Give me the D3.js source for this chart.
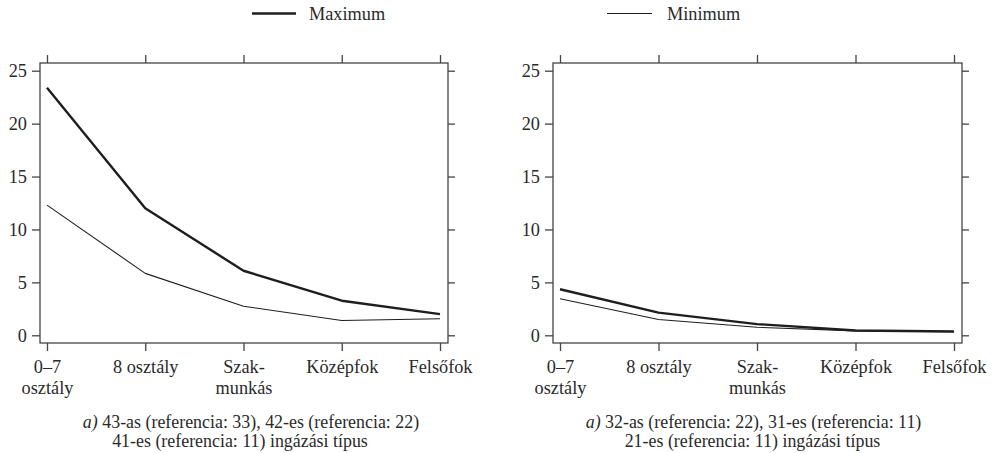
<!DOCTYPE html>
<html>
<head>
<meta charset="utf-8">
<script src="https://cdn.jsdelivr.net/npm/d3@7/dist/d3.min.js"></script>
<style>
  html, body { margin: 0; padding: 0; background: #fff; }
  svg { display: block; }
  svg text { font-family: "Liberation Serif", "Tinos", "Times New Roman", Times, "Nimbus Roman", "FreeSerif", "DejaVu Serif", "Noto Serif", serif !important; fill: #2a2a2a; }
</style>
</head>
<body>
<svg id="chart" width="996" height="453"></svg>
<script>
// Education levels (line breaks shown as "\n")
const categories = ["0–7\nosztály", "8 osztály", "Szak-\nmunkás", "Középfok", "Felsőfok"];
const yTicks = [0, 5, 10, 15, 20, 25];

// Panel 1: 43-as, 42-es, 41-es commuting types
const leftMaximum = [23.4, 12.0, 6.1, 3.27, 2.0];
const leftMinimum = [12.3, 5.85, 2.75, 1.4, 1.57];

// Panel 2: 32-as, 31-es, 21-es commuting types
const rightMaximum = [4.35, 2.14, 1.06, 0.45, 0.36];
const rightMinimum = [3.45, 1.5, 0.76, 0.42, 0.35];

const captionsLeft = [
  ["a)", " 43-as (referencia: 33), 42-es (referencia: 22)"],
  ["", "41-es (referencia: 11) ingázási típus"]
];
const captionsRight = [
  ["a)", " 32-as (referencia: 22), 31-es (referencia: 11)"],
  ["", "21-es (referencia: 11) ingázási típus"]
];

const seriesNames = ["Maximum", "Minimum"];

const svg = d3.select("#chart");
const FONT = 18.3;
const CAPTION_FONT = 17.9;
const INK = "#2a2a2a";
const FRAME = "#444";

function panel(opts) {
  const { left, right, top, bottom, maxVals, minVals, caption, capOffsets } = opts;
  const g = svg.append("g");

  const x = d3.scalePoint().domain(categories).range([left + 7, right - 8]);
  const y = d3.scaleLinear().domain([0, 25]).range([bottom - 7.7, top + 7.7]);

  // plot frame
  g.append("rect")
    .attr("x", left).attr("y", top)
    .attr("width", right - left).attr("height", bottom - top)
    .attr("fill", "none").attr("stroke", FRAME).attr("stroke-width", 1.3);

  const styleAxis = sel => {
    sel.attr("font-family", null);
    sel.select(".domain").remove();
    sel.selectAll(".tick line").attr("stroke", FRAME).attr("stroke-width", 1.3);
  };

  // y axis with labels on the left
  g.append("g").attr("transform", `translate(${left},0)`)
    .call(d3.axisLeft(y).tickValues(yTicks).tickSize(8).tickPadding(5))
    .call(styleAxis)
    .call(s => s.selectAll("text").attr("font-size", FONT).attr("fill", INK)
      .attr("dy", "0.34em"));

  // mirrored y ticks on the right
  g.append("g").attr("transform", `translate(${right},0)`)
    .call(d3.axisRight(y).tickValues(yTicks).tickSize(7).tickFormat(""))
    .call(styleAxis);

  // category ticks on top
  g.append("g").attr("transform", `translate(0,${top})`)
    .call(d3.axisTop(x).tickSize(8).tickFormat(""))
    .call(styleAxis);

  // category ticks and labels at the bottom
  const bx = g.append("g").attr("transform", `translate(0,${bottom})`)
    .call(d3.axisBottom(x).tickSize(8).tickFormat(""))
    .call(styleAxis);

  bx.selectAll(".tick").each(function(d) {
    const lines = d.split("\n");
    const t = d3.select(this).append("text")
      .attr("text-anchor", "middle")
      .attr("font-size", FONT)
      .attr("fill", INK);
    lines.forEach((ln, i) => {
      t.append("tspan").attr("x", 0).attr("y", 30 + i * 21).text(ln);
    });
  });

  const line = d3.line()
    .x((d, i) => x(categories[i]))
    .y(d => y(d));

  g.append("path").datum(minVals)
    .attr("d", line).attr("fill", "none")
    .attr("stroke", "#1e1e1e").attr("stroke-width", 1.1)
    .attr("stroke-linejoin", "round");

  g.append("path").datum(maxVals)
    .attr("d", line).attr("fill", "none")
    .attr("stroke", "#1e1e1e").attr("stroke-width", 2.4)
    .attr("stroke-linejoin", "round");

  // caption under the panel
  const cx = (left + right) / 2;
  caption.forEach((parts, i) => {
    const t = g.append("text")
      .attr("x", cx + capOffsets[i])
      .attr("y", 428 + i * 19)
      .attr("text-anchor", "middle")
      .attr("font-size", CAPTION_FONT)
      .attr("fill", INK);
    if (parts[0]) t.append("tspan").attr("font-style", "italic").text(parts[0]);
    t.append("tspan").text(parts[1]);
  });
}

panel({ left: 40, right: 448, top: 63, bottom: 343,
        maxVals: leftMaximum, minVals: leftMinimum,
        caption: captionsLeft, capOffsets: [7, -4] });
panel({ left: 553, right: 962, top: 63, bottom: 343,
        maxVals: rightMaximum, minVals: rightMinimum,
        caption: captionsRight, capOffsets: [-4, -5] });

// legend
const legend = [
  { name: seriesNames[0], x0: 252, x1: 296, tx: 309, w: 2.4 },
  { name: seriesNames[1], x0: 607, x1: 652, tx: 667, w: 1.1 }
];
legend.forEach(l => {
  svg.append("line")
    .attr("x1", l.x0).attr("x2", l.x1).attr("y1", 13.5).attr("y2", 13.5)
    .attr("stroke", "#1e1e1e").attr("stroke-width", l.w);
  svg.append("text")
    .attr("x", l.tx).attr("y", 20)
    .attr("font-size", FONT).attr("fill", INK)
    .text(l.name);
});
</script>
</body>
</html>
